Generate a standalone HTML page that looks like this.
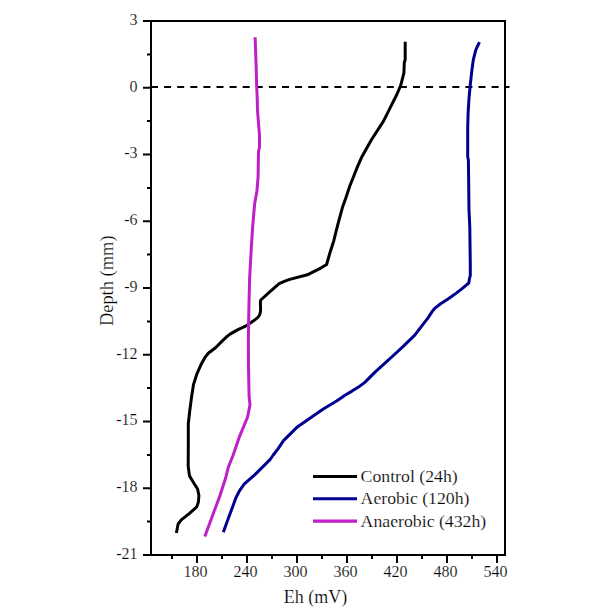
<!DOCTYPE html>
<html><head><meta charset="utf-8"><style>
html,body{margin:0;padding:0;background:#fff;}
svg{display:block;}
text{font-family:"Liberation Serif",serif;fill:#000;stroke:#fff;stroke-width:0.2px;}
</style></head><body>
<svg width="601" height="613" viewBox="0 0 601 613">
<rect width="601" height="613" fill="#fff"/>
<path d="M151,20 V556 M150,555 H506 M505,556 V20 M506,21 H150" stroke="#000" stroke-width="2" fill="none"/>
<path d="M143,21.00 H151 M147,54.38 H151 M143,87.75 H151 M147,121.12 H151 M143,154.50 H151 M147,187.88 H151 M143,221.25 H151 M147,254.62 H151 M143,288.00 H151 M147,321.38 H151 M143,354.75 H151 M147,388.12 H151 M143,421.50 H151 M147,454.88 H151 M143,488.25 H151 M147,521.62 H151 M143,555.00 H151 M172.00,555 V559 M197.00,555 V563 M222.00,555 V559 M247.00,555 V563 M272.00,555 V559 M297.00,555 V563 M322.00,555 V559 M347.00,555 V563 M372.00,555 V559 M397.00,555 V563 M422.00,555 V559 M447.00,555 V563 M472.00,555 V559 M497.00,555 V563" stroke="#000" stroke-width="2" fill="none"/>
<line x1="151" y1="87" x2="509.5" y2="87" stroke="#000" stroke-width="2" stroke-dasharray="7 6.1"/>
<polyline points="405.2,41.8 405.2,59.8 404.3,62.4 403.9,72.9 402.6,78.1 400.7,85.3 399.4,88.5 396.6,95.0 390.0,108.1 383.5,121.1 371.3,140.0 366.4,148.8 361.5,157.6 357.6,166.4 353.7,176.2 349.8,186.0 345.9,197.7 342.4,207.6 337.8,224.7 333.8,240.7 329.8,253.2 327.6,261.0 326.6,264.5 321.2,267.8 307.3,274.8 289.8,279.4 284.9,281.2 279.1,283.7 276.6,285.8 270.0,291.6 260.8,300.0 260.4,301.6 260.6,310.8 259.6,315.0 257.9,317.4 255.8,319.1 250.8,322.8 245.0,326.4 238.0,329.6 230.0,334.1 227.4,336.2 221.6,341.6 215.8,347.5 208.3,353.3 205.0,357.4 201.3,364.0 196.8,374.1 193.5,384.6 191.5,397.6 189.6,412.0 188.3,423.7 188.3,444.6 188.2,466.1 189.5,475.9 194.4,484.0 197.6,489.0 198.9,495.5 198.4,502.0 196.8,506.9 189.5,513.4 181.3,519.9 178.1,524.0 176.4,533.0" stroke="#000000" stroke-width="3" fill="none" stroke-linejoin="round" stroke-linecap="butt"/>
<polyline points="479.5,42.2 475.9,49.6 473.4,59.4 471.8,70.8 470.2,85.5 469.0,98.5 468.1,113.2 467.7,127.9 467.7,157.0 468.4,160.0 469.0,210.0 469.8,227.6 470.3,265.0 470.3,275.5 469.4,279.0 468.8,283.0 462.4,288.3 456.6,292.9 448.4,298.8 440.3,304.0 434.4,308.7 432.1,311.6 427.5,318.6 421.6,326.1 414.8,335.2 403.2,346.3 393.9,355.0 386.9,361.4 375.3,371.9 364.8,382.4 360.1,385.9 352.0,391.1 345.0,395.2 336.6,401.0 323.3,409.0 309.9,418.3 296.6,427.6 283.3,440.9 278.0,448.9 273.3,455.0 270.0,459.6 263.5,466.1 255.2,474.4 244.1,484.1 239.3,491.1 235.8,498.0 232.3,507.7 228.2,518.8 223.3,532.3" stroke="#000090" stroke-width="3" fill="none" stroke-linejoin="round" stroke-linecap="butt"/>
<polyline points="255.1,37.3 256.2,67.5 256.7,87.0 257.2,97.0 257.5,110.0 258.1,117.8 259.5,135.5 259.5,147.3 258.5,151.2 258.1,176.7 257.0,190.4 254.6,204.1 252.6,227.6 251.2,249.4 249.6,279.0 248.9,308.0 248.4,337.0 248.5,367.0 249.1,396.5 250.0,404.8 247.6,417.0 239.5,436.6 233.0,455.5 228.2,467.5 225.8,477.5 220.0,495.5 213.5,513.0 204.8,536.5" stroke="#BE1FC8" stroke-width="3" fill="none" stroke-linejoin="round" stroke-linecap="butt"/>
<text x="137.5" y="24.8" text-anchor="end" font-size="16">3</text>
<text x="137.5" y="91.5" text-anchor="end" font-size="16">0</text>
<text x="137.5" y="158.3" text-anchor="end" font-size="16">-3</text>
<text x="137.5" y="225.1" text-anchor="end" font-size="16">-6</text>
<text x="137.5" y="291.8" text-anchor="end" font-size="16">-9</text>
<text x="137.5" y="358.6" text-anchor="end" font-size="16">-12</text>
<text x="137.5" y="425.3" text-anchor="end" font-size="16">-15</text>
<text x="137.5" y="492.1" text-anchor="end" font-size="16">-18</text>
<text x="137.5" y="558.8" text-anchor="end" font-size="16">-21</text>
<text x="195.4" y="577" text-anchor="middle" font-size="16">180</text>
<text x="245.4" y="577" text-anchor="middle" font-size="16">240</text>
<text x="295.4" y="577" text-anchor="middle" font-size="16">300</text>
<text x="345.4" y="577" text-anchor="middle" font-size="16">360</text>
<text x="395.4" y="577" text-anchor="middle" font-size="16">420</text>
<text x="445.4" y="577" text-anchor="middle" font-size="16">480</text>
<text x="495.4" y="577" text-anchor="middle" font-size="16">540</text>
<text x="315.5" y="602.5" text-anchor="middle" font-size="18">Eh (mV)</text>
<text transform="translate(112.5,280.8) rotate(-90)" text-anchor="middle" font-size="18.45">Depth (mm)</text>
<line x1="313" y1="476.50" x2="357" y2="476.50" stroke="#000000" stroke-width="3.1"/>
<text x="360.6" y="482.10" font-size="17.75">Control (24h)</text>
<line x1="313" y1="498.80" x2="357" y2="498.80" stroke="#000090" stroke-width="3.1"/>
<text x="360.6" y="504.35" font-size="17.75">Aerobic (120h)</text>
<line x1="313" y1="521.10" x2="357" y2="521.10" stroke="#BE1FC8" stroke-width="3.1"/>
<text x="360.6" y="526.60" font-size="17.75">Anaerobic (432h)</text>
</svg>
</body></html>
